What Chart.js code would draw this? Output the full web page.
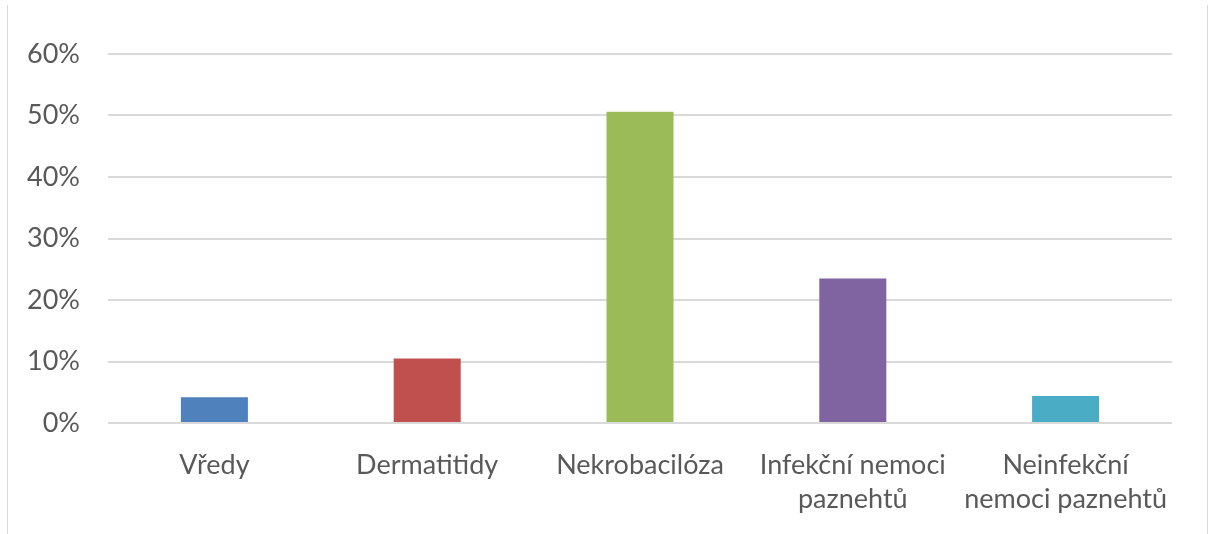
<!DOCTYPE html>
<html>
<head>
<meta charset="utf-8">
<script src="https://cdn.jsdelivr.net/npm/chart.js@4/dist/chart.umd.min.js"></script>
<style>
html,body{margin:0;padding:0;background:#fff;}
#wrap{position:relative;width:1214px;height:534px;}
#frame{position:absolute;left:7px;top:5px;width:1201px;height:540px;border-left:1px solid #d9d9d9;border-right:1px solid #d9d9d9;box-sizing:border-box;pointer-events:none;}
canvas{position:absolute;left:0;top:0;}
</style>
</head>
<body>
<div id="wrap">
<canvas id="c" width="1214" height="534"></canvas>
<div id="frame"></div>
</div>
<script>
const categories = [["Vředy"], ["Dermatitidy"], ["Nekrobacilóza"], ["Infekční nemoci", "paznehtů"], ["Neinfekční", "nemoci paznehtů"]];
const values = [4.2, 10.5, 50.6, 23.5, 4.4];
const barColors = ["#4F81BD", "#C0504D", "#9BBB59", "#8064A2", "#4BACC6"];
const yTicks = [0, 10, 20, 30, 40, 50, 60];

Chart.defaults.font.family = "Lato, 'Open Sans', sans-serif";
Chart.defaults.color = "#595959";

new Chart(document.getElementById("c"), {
  type: "bar",
  data: {
    labels: categories,
    datasets: [{
      data: values,
      backgroundColor: barColors,
      borderWidth: 0,
      categoryPercentage: 1,
      barPercentage: 0.315
    }]
  },
  options: {
    responsive: false,
    animation: false,
    layout: { padding: { left: 0, right: 42, top: 54, bottom: 0 } },
    plugins: { legend: { display: false }, tooltip: { enabled: false } },
    scales: {
      x: {
        grid: { display: false },
        border: { display: false },
        ticks: { font: { size: 27, lineHeight: 1.26 }, color: "#595959", maxRotation: 0, autoSkip: false, padding: 17 },
        afterFit: s => { s.height = 111; }
      },
      y: {
        min: 0, max: 60,
        afterBuildTicks: s => { s.ticks = yTicks.map(v => ({ value: v })); },
        grid: { color: "#d9d9d9", lineWidth: 2, drawTicks: false },
        border: { display: false },
        ticks: { font: { size: 27 }, color: "#595959", padding: 28, callback: v => v + "%" },
        afterFit: s => { s.width = 108; }
      }
    }
  }
});
</script>
</body>
</html>
